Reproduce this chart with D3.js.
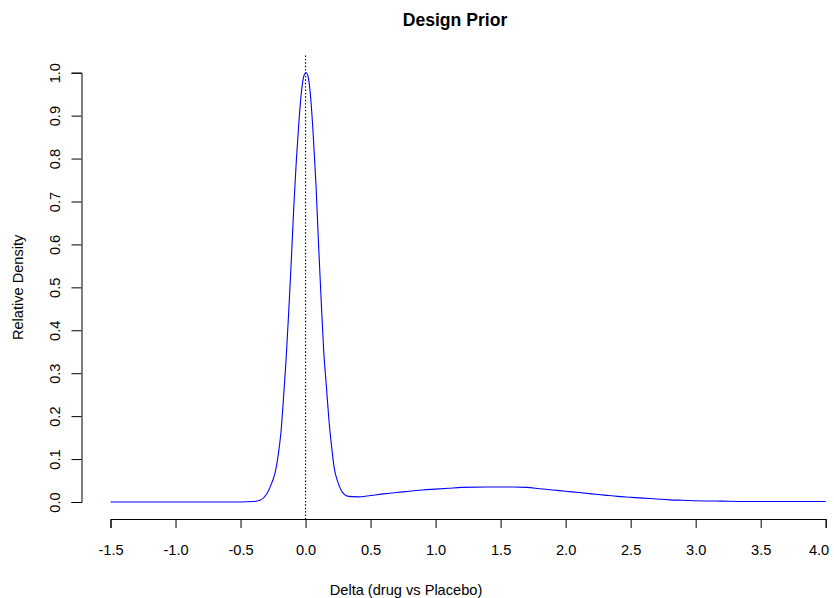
<!DOCTYPE html>
<html>
<head>
<meta charset="utf-8">
<script src="https://cdn.jsdelivr.net/npm/d3@7"></script>
<style>
  html, body { margin: 0; padding: 0; background: #fff; }
  svg { display: block; font-family: "Liberation Sans", Arial, Helvetica, sans-serif; }
</style>
</head>
<body>
<svg id="chart" width="834" height="598"></svg>
<script>
// ---- data ----
const deltaX = [-1.5, -1.0, -0.5, -0.40, -0.35, -0.30, -0.26, -0.235, -0.21, -0.19, -0.17, -0.15,
  -0.13, -0.11, -0.09, -0.07, -0.05, -0.03, -0.01, 0.005, 0.02, 0.04, 0.06, 0.08, 0.10,
  0.12, 0.14, 0.16, 0.18, 0.20, 0.22, 0.25, 0.29, 0.33, 0.40, 0.50, 0.60, 0.70, 0.80,
  0.90, 1.00, 1.10, 1.20, 1.40, 1.60, 1.70, 1.80, 1.90, 2.00, 2.10, 2.20, 2.30, 2.40,
  2.50, 2.60, 2.70, 2.80, 2.90, 3.00, 3.20, 3.50, 4.00];
const density = [0.0, 0.0, 0.0, 0.001, 0.004, 0.018, 0.044, 0.067, 0.11, 0.16, 0.24, 0.33,
  0.44, 0.56, 0.69, 0.80, 0.89, 0.96, 0.995, 1.0, 0.99, 0.94, 0.85, 0.74, 0.60,
  0.47, 0.35, 0.27, 0.19, 0.13, 0.08, 0.045, 0.02, 0.013, 0.012, 0.015, 0.019, 0.022, 0.025,
  0.028, 0.030, 0.032, 0.034, 0.035, 0.035, 0.034, 0.031, 0.028, 0.025, 0.022, 0.019, 0.016, 0.013,
  0.011, 0.009, 0.007, 0.005, 0.004, 0.003, 0.002, 0.001, 0.001];
const xTicks = [-1.5, -1.0, -0.5, 0.0, 0.5, 1.0, 1.5, 2.0, 2.5, 3.0, 3.5, 4.0];
const yTicks = [0.0, 0.1, 0.2, 0.3, 0.4, 0.5, 0.6, 0.7, 0.8, 0.9, 1.0];
const refLineX = [0.0];
const titleText = "Design Prior";
const xLabel = "Delta (drug vs Placebo)";
const yLabel = "Relative Density";

// ---- layout ----
const svg = d3.select("#chart");
const x = d3.scaleLinear().domain([-1.5, 4.0]).range([110.5, 825.7]);
const y = d3.scaleLinear().domain([0, 1]).range([502, 72.7]);
const fs = 14.6;
const fmt = d => d.toFixed(1); // plain hyphen-minus, as in the reference

// plot region (R usr with 4% extension)
const xr = x.domain(), yr = y.domain();
const px0 = x(xr[0] - 0.04 * (xr[1] - xr[0]));
const py0 = y(yr[0] - 0.04 * (yr[1] - yr[0])), py1 = y(yr[1] + 0.04 * (yr[1] - yr[0]));

// x axis
const xAxis = d3.axisBottom(x).tickValues(xTicks).tickFormat(fmt).tickSizeOuter(0).tickSize(9).tickPadding(3);
const gx = svg.append("g").attr("transform", `translate(0,${Math.round(py0)})`).call(xAxis);
gx.select(".domain").attr("stroke", "#000").attr("stroke-width", 1);
gx.selectAll(".tick line").attr("stroke", "#000");
gx.selectAll(".tick text").attr("font-size", fs).attr("fill", "#000")
  .attr("y", 0).attr("dy", 0).attr("transform", "translate(0,36)")
  .style("font-family", "Liberation Sans, Arial, sans-serif");
// the last label sits inside the page edge, as in the reference
gx.selectAll(".tick text").filter(d => d === xTicks[xTicks.length - 1])
  .attr("text-anchor", "end").attr("x", 3);

// y axis
const yAxis = d3.axisLeft(y).tickValues(yTicks).tickFormat(fmt).tickSizeOuter(0).tickSize(10);
const gy = svg.append("g").attr("transform", `translate(${Math.round(px0) - 0.5},0)`).call(yAxis);
gy.select(".domain").attr("stroke", "#000").attr("stroke-width", 1);
gy.selectAll(".tick line").attr("stroke", "#000");
gy.selectAll(".tick text").attr("font-size", fs).attr("fill", "#000")
  .attr("x", 0).attr("dy", 0)
  .attr("text-anchor", "middle")
  .attr("transform", "translate(-22,0) rotate(-90)")
  .style("font-family", "Liberation Sans, Arial, sans-serif");

// reference dotted line
svg.selectAll(".ref").data(refLineX).enter().append("line")
  .attr("x1", d => x(d)).attr("x2", d => x(d))
  .attr("y1", py1).attr("y2", py0)
  .attr("stroke", "#000").attr("stroke-width", 1.2).attr("stroke-dasharray", "1.4,2");

// curve
const pts = deltaX.map((d, i) => [d, density[i]]);
const line = d3.line().x(d => x(d[0])).y(d => y(d[1])).curve(d3.curveMonotoneX);
svg.append("path").datum(pts).attr("d", line)
  .attr("fill", "none").attr("stroke", "#0000ff").attr("stroke-width", 1.1);

// title and labels
svg.append("text").attr("x", 455).attr("y", 26).attr("text-anchor", "middle")
  .attr("font-size", 17.6).attr("font-weight", "bold").text(titleText);
svg.append("text").attr("x", 406).attr("y", 595).attr("text-anchor", "middle")
  .attr("font-size", fs).text(xLabel);
svg.append("text").attr("transform", `translate(23,${(py0 + py1) / 2}) rotate(-90)`)
  .attr("text-anchor", "middle").attr("font-size", fs).text(yLabel);
</script>
</body>
</html>
